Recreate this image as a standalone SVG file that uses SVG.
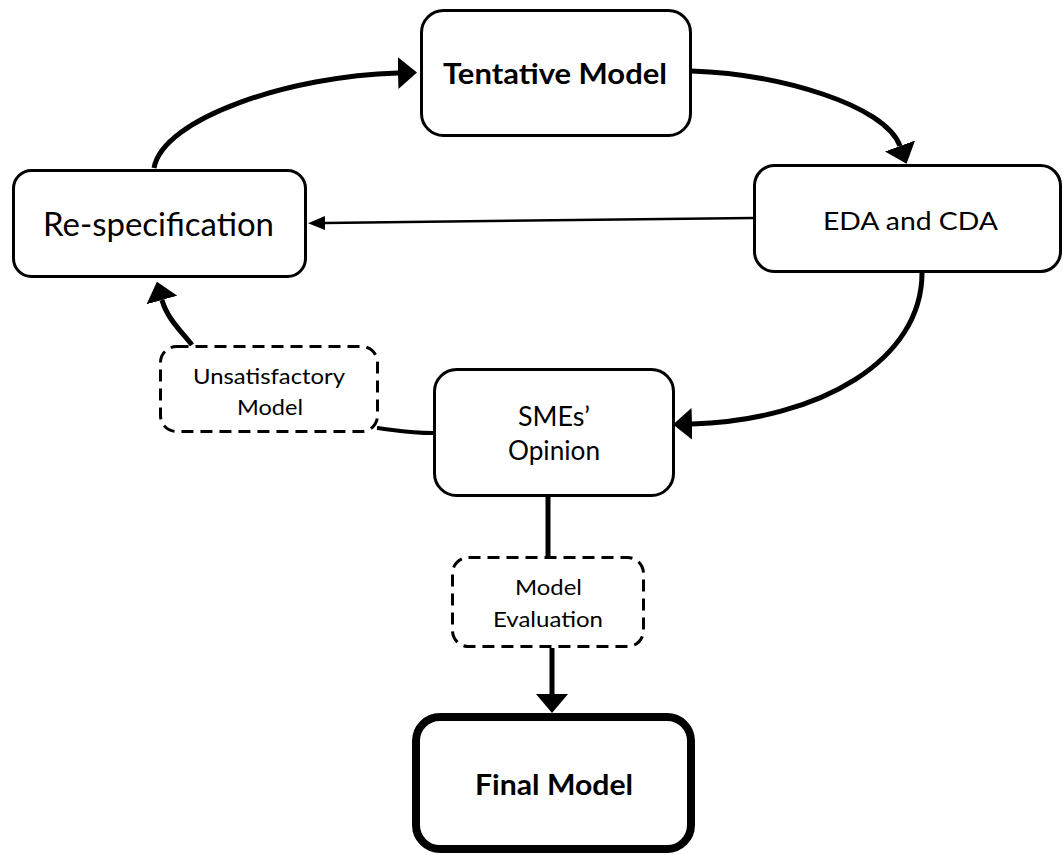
<svg xmlns="http://www.w3.org/2000/svg" width="1063" height="855" viewBox="0 0 1063 855">
<style>
.box{fill:#fff;stroke:#000;stroke-width:3}
.dash{fill:#fff;stroke:#000;stroke-width:3;stroke-dasharray:12 7}
.final{fill:#fff;stroke:#000;stroke-width:8}
.t{font-family:Lato,"Liberation Sans",sans-serif;fill:#000;text-anchor:middle}
.b{font-weight:bold}
.c{fill:none;stroke:#000;stroke-width:5}
.thin{fill:none;stroke:#000;stroke-width:2.5}
</style>
<defs>
<marker id="ah" viewBox="0 0 19 32" refX="0" refY="16" markerWidth="19" markerHeight="32" markerUnits="userSpaceOnUse" orient="auto">
<path d="M0,0 L19,16 L0,32 Z" fill="#000"/>
</marker>
<marker id="ahs" viewBox="0 0 17 14" refX="0" refY="7" markerWidth="17" markerHeight="14" markerUnits="userSpaceOnUse" orient="auto">
<path d="M0,0 L17,7 L0,14 Z" fill="#000"/>
</marker>
</defs>
<g id="connectors">
<path class="c" d="M154,168 C163,118 290,76 398,73" marker-end="url(#ah)"/>
<path class="c" d="M691,71 C780,74 885,105 900,146" marker-end="url(#ah)"/>
<path class="thin" d="M753,218 L325,223" marker-end="url(#ahs)"/>
<path class="c" d="M922,273 C922,360 820,420 692,424" marker-end="url(#ah)"/>
<path class="c" style="stroke-width:4" d="M433,433 C410,433 395,430 377,428"/>
<path class="c" d="M192,345 C180,330 167,318 162,300" marker-end="url(#ah)"/>
<path class="c" d="M548,497 L548,556"/>
<path class="c" d="M552,648 L552,694" marker-end="url(#ah)"/>
</g>
<g id="tentative">
<rect class="box" x="421.5" y="10.5" width="269" height="125" rx="22"/>
<text class="t b" x="555" y="84" font-size="29" textLength="224" lengthAdjust="spacingAndGlyphs">Tentative Model</text>
</g>
<g id="respec">
<rect class="box" x="13.5" y="170.5" width="292" height="106" rx="18"/>
<text class="t" x="158.5" y="236" font-size="32" textLength="231" lengthAdjust="spacingAndGlyphs">Re-specification</text>
</g>
<g id="eda">
<rect class="box" x="754.5" y="165.5" width="306" height="106" rx="20"/>
<text class="t" x="910.5" y="230" font-size="25" textLength="175" lengthAdjust="spacingAndGlyphs">EDA and CDA</text>
</g>
<g id="smes">
<rect class="box" x="434.5" y="369.5" width="239" height="126" rx="22"/>
<text class="t" x="554" y="426" font-size="26" textLength="72" lengthAdjust="spacingAndGlyphs">SMEs’</text>
<text class="t" x="554" y="460" font-size="26" textLength="92" lengthAdjust="spacingAndGlyphs">Opinion</text>
</g>
<g id="unsatisfactory">
<rect class="dash" x="160.5" y="346.5" width="217" height="85" rx="16"/>
<text class="t" x="269" y="384" font-size="22" textLength="152" lengthAdjust="spacingAndGlyphs">Unsatisfactory</text>
<text class="t" x="270" y="415" font-size="22" textLength="66" lengthAdjust="spacingAndGlyphs">Model</text>
</g>
<g id="evaluation">
<rect class="dash" x="452.5" y="557.5" width="191" height="89" rx="16"/>
<text class="t" x="548.5" y="595" font-size="22" textLength="67" lengthAdjust="spacingAndGlyphs">Model</text>
<text class="t" x="548" y="627" font-size="22" textLength="110" lengthAdjust="spacingAndGlyphs">Evaluation</text>
</g>
<g id="final">
<rect class="final" x="416" y="717" width="275" height="132" rx="24"/>
<text class="t b" x="554" y="795" font-size="28" textLength="158" lengthAdjust="spacingAndGlyphs">Final Model</text>
</g>
</svg>
